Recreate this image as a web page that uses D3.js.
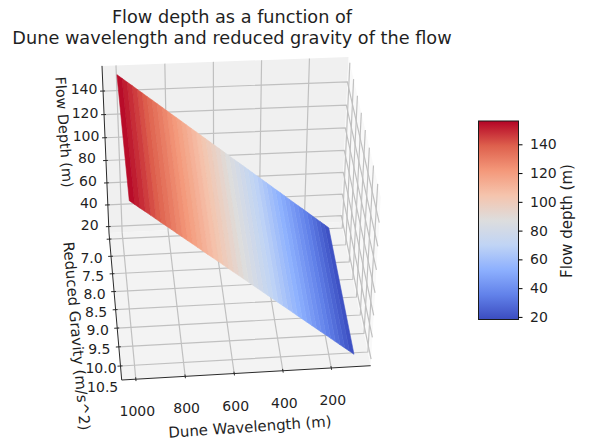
<!DOCTYPE html>
<html lang="en">
<head>
    <meta charset="UTF-8">
    <title>Flow depth</title>
    <script src="https://cdn.jsdelivr.net/npm/d3@7" type="text/javascript"></script>
    <style>
        html, body { margin: 0; padding: 0; background: #fff; }
        svg { display: block; }
        text { font-family: "DejaVu Sans", sans-serif; fill: #1f1f1f; }
    </style>
</head>
<body>
<svg width="616" height="439"></svg>
<script type="text/javascript">
    // values
    var wavelengths = [100, 120, 140, 160, 180, 200, 220, 240, 260, 280, 300, 320, 340, 360, 380,
        400, 420, 440, 460, 480, 500, 520, 540, 560, 580, 600, 620, 640, 660, 680, 700,
        720, 740, 760, 780, 800, 820, 840, 860, 880, 900, 920, 940, 960, 980, 1000];
    var depths = [18, 21.2, 24.4, 27.5, 30.7, 33.9, 37.1, 40.2, 43.4, 46.6, 49.8, 53, 56.1, 59.3, 62.5,
        65.7, 68.8, 72, 75.2, 78.4, 81.6, 84.7, 87.9, 91.1, 94.3, 97.4, 100.6, 103.8, 107, 110.2, 113.3,
        116.5, 119.7, 122.9, 126, 129.2, 132.4, 135.6, 138.8, 141.9, 145.1, 148.3, 151.5, 154.6, 157.8, 161];
    var gravityRange = [6.6, 10.15];

    var xTicks = [200, 400, 600, 800, 1000];
    var yTicks = [6.5, 7, 7.5, 8, 8.5, 9, 9.5, 10];
    var yTickLabels = [7, 7.5, 8, 8.5, 9, 9.5, 10, 10.5];
    var zTicks = [20, 40, 60, 80, 100, 120, 140];
    var cbarTicks = [20, 40, 60, 80, 100, 120, 140];

    var coolwarm = ["#3b4cc0", "#6282ea", "#8db0fe", "#c0d4f5", "#dddddd", "#f5c4ad", "#f4987a", "#de604d", "#b40426"];

    var svg = d3.select("svg");

    // axis limits of the 3d box
    var xLim = [36, 1057], yLim = [6.32, 10.36], zLim = [14, 161];
    var xScale = d3.scaleLinear().domain(xLim).range([0, 1]);
    var yScale = d3.scaleLinear().domain(yLim).range([0, 1]);
    var zScale = d3.scaleLinear().domain(zLim).range([0, 1]);

    // where the box corners land on the page: floor, then the two top corners of the back wall
    var floorRF = [341, 222], floorLF = [109, 233], floorLN = [121.7, 380], floorRN = [370.7, 365.7];
    var topRF = [348.5, 57], topLF = [102, 63];

    // perspective matrix: floor homography plus a column for height
    function buildCamera() {
        var x0 = floorRF[0], y0 = floorRF[1], x1 = floorLF[0], y1 = floorLF[1];
        var x2 = floorLN[0], y2 = floorLN[1], x3 = floorRN[0], y3 = floorRN[1];
        var dx1 = x1 - x2, dx2 = x3 - x2, sx = x0 - x1 + x2 - x3;
        var dy1 = y1 - y2, dy2 = y3 - y2, sy = y0 - y1 + y2 - y3;
        var den = dx1 * dy2 - dx2 * dy1;
        var g = (sx * dy2 - dx2 * sy) / den;
        var h = (dx1 * sy - sx * dy1) / den;
        var a = x1 - x0 + g * x1, b = x3 - x0 + h * x3, c = x0;
        var d = y1 - y0 + g * y1, e = y3 - y0 + h * y3, f = y0;
        var alpha = (a - g * topLF[0]) / (topLF[0] - topRF[0]);
        return [
            [a, b, alpha * topRF[0] - c, c],
            [d, e, alpha * topRF[1] - f, f],
            [g, h, alpha - 1, 1]
        ];
    }
    var cam = buildCamera();

    function project(x, y, z) {
        var u = xScale(x), v = yScale(y), w = zScale(z);
        var hx = cam[0][0] * u + cam[0][1] * v + cam[0][2] * w + cam[0][3];
        var hy = cam[1][0] * u + cam[1][1] * v + cam[1][2] * w + cam[1][3];
        var hw = cam[2][0] * u + cam[2][1] * v + cam[2][2] * w + cam[2][3];
        return [hx / hw, hy / hw];
    }

    var line = d3.line();
    function path3d(pts) {
        return line(pts.map(function (p) { return project(p[0], p[1], p[2]); }));
    }

    // the surface runs over the whole colormap from its lowest to its highest depth
    var colorScale = d3.scaleLinear()
        .domain(coolwarm.map(function (c, i) { return d3.min(depths) + (d3.max(depths) - d3.min(depths)) * i / (coolwarm.length - 1); }))
        .range(coolwarm)
        .interpolate(d3.interpolateRgb);

    // panes
    var panes = svg.append("g");
    panes.append("path")
        .attr("d", path3d([[xLim[0], yLim[0], zLim[0]], [xLim[1], yLim[0], zLim[0]], [xLim[1], yLim[1], zLim[0]], [xLim[0], yLim[1], zLim[0]]]) + "Z")
        .attr("fill", "#f3f3f3");
    panes.append("path")
        .attr("d", path3d([[xLim[0], yLim[0], zLim[0]], [xLim[1], yLim[0], zLim[0]], [xLim[1], yLim[0], zLim[1]], [xLim[0], yLim[0], zLim[1]]]) + "Z")
        .attr("fill", "#f0f0f0");
    panes.append("path")
        .attr("d", path3d([[xLim[0], yLim[0], zLim[0]], [xLim[0], yLim[1], zLim[0]], [xLim[0], yLim[1], zLim[1]], [xLim[0], yLim[0], zLim[1]]]) + "Z")
        .attr("fill", "#f9f9f9");

    // grid
    var grid = svg.append("g").attr("fill", "none").attr("stroke", "#c0c0c0").attr("stroke-width", 1.2);
    xTicks.forEach(function (t) {
        grid.append("path").attr("d", path3d([[t, yLim[1], zLim[0]], [t, yLim[0], zLim[0]], [t, yLim[0], zLim[1]]]));
    });
    yTicks.forEach(function (t) {
        grid.append("path").attr("d", path3d([[xLim[1], t, zLim[0]], [xLim[0], t, zLim[0]], [xLim[0], t, zLim[1]]]));
    });
    zTicks.forEach(function (t) {
        grid.append("path").attr("d", path3d([[xLim[1], yLim[0], t], [xLim[0], yLim[0], t], [xLim[0], yLim[1], t]]));
    });

    // surface, one strip per wavelength step
    var strips = d3.pairs(d3.range(wavelengths.length));
    svg.append("g").selectAll("path")
        .data(strips)
        .enter()
        .append("path")
        .attr("d", function (d) {
            var a = d[0], b = d[1];
            return path3d([
                [wavelengths[a], gravityRange[0], depths[a]],
                [wavelengths[b], gravityRange[0], depths[b]],
                [wavelengths[b], gravityRange[1], depths[b]],
                [wavelengths[a], gravityRange[1], depths[a]]
            ]) + "Z";
        })
        .attr("fill", function (d) { return colorScale((depths[d[0]] + depths[d[1]]) / 2); })
        .attr("stroke", function (d) { return colorScale((depths[d[0]] + depths[d[1]]) / 2); })
        .attr("stroke-width", 0.6);

    // axis lines
    var axes = svg.append("g").attr("fill", "none").attr("stroke", "#2b2b2b").attr("stroke-width", 1);
    axes.append("path").attr("d", path3d([[xLim[1], yLim[0], zLim[1]], [xLim[1], yLim[0], zLim[0]], [xLim[1], yLim[1], zLim[0]], [xLim[0], yLim[1], zLim[0]]]));

    // tick marks
    var xSpan = xLim[1] - xLim[0], ySpan = yLim[1] - yLim[0];
    zTicks.forEach(function (t) {
        axes.append("path").attr("d", path3d([[xLim[1] + xSpan * 0.012, yLim[0], t], [xLim[1] - xSpan * 0.008, yLim[0], t]]));
    });
    yTicks.forEach(function (t) {
        axes.append("path").attr("d", path3d([[xLim[1] + xSpan * 0.012, t, zLim[0]], [xLim[1] - xSpan * 0.008, t, zLim[0]]]));
    });
    xTicks.forEach(function (t) {
        axes.append("path").attr("d", path3d([[t, yLim[1] + ySpan * 0.012, zLim[0]], [t, yLim[1] - ySpan * 0.012, zLim[0]]]));
    });

    // tick labels
    var tickFont = 14;
    function tickLabel(p, dx, dy, s) {
        svg.append("text")
            .attr("x", p[0] + dx)
            .attr("y", p[1] + dy)
            .attr("text-anchor", "middle")
            .attr("dominant-baseline", "central")
            .attr("font-size", tickFont)
            .text(s);
    }
    zTicks.forEach(function (t) { tickLabel(project(xLim[1], yLim[0], t), -19, -2, t); });
    yTickLabels.forEach(function (t) { tickLabel(project(xLim[1], t, zLim[0]), -19.5, 2, d3.format(".1f")(t)); });
    xTicks.forEach(function (t) { tickLabel(project(t, yLim[1], zLim[0]), 1.5, 32, t); });

    // axis titles
    function rotated(x, y, angle, s, size) {
        svg.append("text")
            .attr("transform", "translate(" + x + "," + y + ") rotate(" + angle + ")")
            .attr("text-anchor", "middle")
            .attr("dominant-baseline", "central")
            .attr("font-size", size)
            .text(s);
    }
    rotated(64, 132, 86, "Flow Depth (m)", 14.4);
    rotated(76.5, 336, 85, "Reduced Gravity (m/s^2)", 14.9);
    rotated(250, 427, -4, "Dune Wavelength (m)", 14.9);

    // title
    svg.append("text").attr("x", 232).attr("y", 23).attr("text-anchor", "middle").attr("font-size", 17.7)
        .text("Flow depth as a function of");
    svg.append("text").attr("x", 232).attr("y", 44).attr("text-anchor", "middle").attr("font-size", 17.7)
        .text("Dune wavelength and reduced gravity of the flow");

    // colorbar
    var cbar = {left: 478.5, right: 518.5, top: 121, bottom: 319.5};
    var cbarScale = d3.scaleLinear().domain([18.2, 156.2]).range([cbar.bottom, cbar.top]);
    var grad = svg.append("defs").append("linearGradient")
        .attr("id", "cw").attr("x1", 0).attr("x2", 0).attr("y1", 1).attr("y2", 0);
    coolwarm.forEach(function (c, i) {
        grad.append("stop").attr("offset", i / (coolwarm.length - 1)).attr("stop-color", c);
    });
    svg.append("rect")
        .attr("x", cbar.left).attr("y", cbar.top)
        .attr("width", cbar.right - cbar.left).attr("height", cbar.bottom - cbar.top)
        .attr("fill", "url(#cw)").attr("stroke", "#1a1a1a").attr("stroke-width", 1);
    var cbarAxis = d3.axisRight(cbarScale).tickValues(cbarTicks).tickSize(4).tickPadding(7.5);
    var cbarG = svg.append("g")
        .attr("transform", "translate(" + cbar.right + ",0)")
        .call(cbarAxis);
    cbarG.select(".domain").remove();
    cbarG.selectAll("text").attr("font-size", 14).style("font-family", '"DejaVu Sans", sans-serif');
    rotated(567, 221, -90, "Flow depth (m)", 15);
</script>
</body>
</html>
